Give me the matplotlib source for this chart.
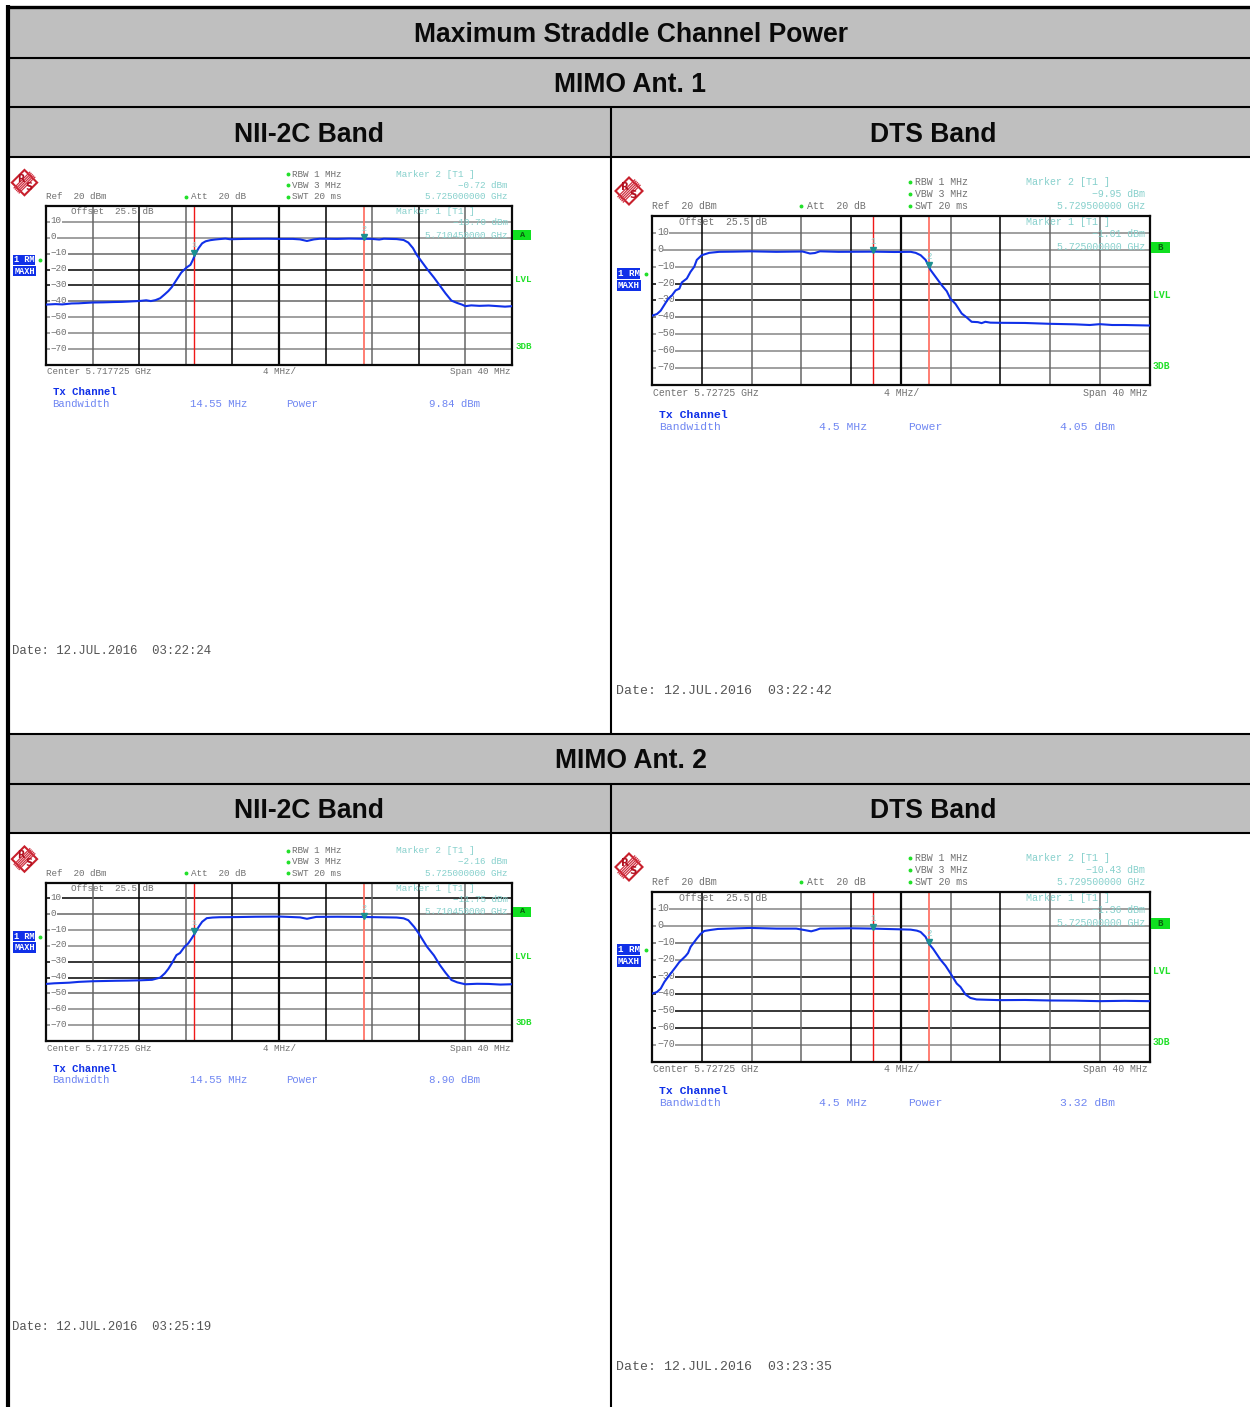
import matplotlib
matplotlib.use('Agg')
import matplotlib.pyplot as plt
from matplotlib.patches import Polygon, Rectangle
from matplotlib.transforms import blended_transform_factory

W, H = 1250, 1407

# Trazas: MHz respecto al centro, dBm
nii1_mhz = [-20, -19.2, -18.6, -17.8, -17.2, -16, -15.1, -14.2, -13.5, -12.9, -11.9, -11.4, -11, -10.6, -10.2, -9.8, -9.5, -9.2, -8.8,
            -8.4, -8.2, -7.9, -7.6, -7.4, -7.2, -6.9, -6.6, -6.3, -5.9, -5.5, -5.1, -4.6, -4.2, -3, -1, 0.1, 1.2, 1.8, 2.4, 3, 3.5,
            5, 6, 8, 8.6, 9, 10.1, 10.7, 11.1, 11.5, 11.8, 12.3, 12.7, 13.3, 13.8, 14.3, 14.8, 15.3, 15.7, 16, 16.5, 17.2, 18, 18.8, 19.4, 20]
nii1_db = [-42, -41.7, -41.9, -41.3, -41.2, -40.7, -40.6, -40.4, -40.3, -40.1, -39.7, -39.3, -39.8, -39.2, -38, -35.5, -33.5, -31, -26.5,
           -22, -20.5, -18.5, -17, -14, -10.5, -6.5, -3.5, -2.2, -1.5, -1.1, -0.8, -0.5, -0.9, -0.7, -0.6, -0.7, -0.7, -1, -2, -1, -0.6,
           -0.7, -0.5, -0.7, -1.1, -0.6, -0.8, -1.4, -3, -6.5, -10.5, -15.5, -19.5, -25, -30, -35, -39.5, -41, -42, -43, -42.5, -42.8, -42.6, -43, -43.3, -43]

dts1_mhz = [-20, -19.6, -19.3, -19, -18.7, -18.4, -18.1, -17.8, -17.6, -17.2, -16.9, -16.6, -16.4, -16, -15.4, -14.6, -13.5, -12.1, -10, -7.9,
            -7.6, -7.3, -6.9, -6.5, -5, -2.2, -0.5, 0.8, 1.2, 1.6, 2, 2.4, 2.8, 3.3, 3.7, 4, 4.4, 4.9, 5.3, 5.7, 6.2, 6.5, 6.8, 7.2, 8, 10, 12, 14, 15.2, 16, 17, 18, 20]
dts1_db = [-39, -38, -36, -32.5, -29, -27, -24, -23, -19.3, -17, -13, -10, -6, -3.2, -1.8, -1.2, -1.1, -0.9, -1.2, -1,
           -1.6, -2.2, -1.9, -0.9, -1.2, -1.1, -1.3, -1.2, -1.8, -3.2, -6, -12, -16, -21, -24.5, -29, -32, -37.7, -40, -42.6, -42.8, -43.4, -42.6, -43.1, -43.2, -43.3, -43.8, -44.1, -44.5, -44, -44.5, -44.5, -44.8]

nii2_mhz = [-20, -19.3, -18, -17.2, -16, -14, -13, -11.9, -10.9, -10.2, -9.8, -9.5, -9.2, -8.8, -8.5, -8.1, -7.8, -7.5, -7.2, -6.9, -6.6, -6.2, -5.7, -5.1,
            -3.5, -2, 0.1, 1.8, 2.4, 3.2, 5, 6.9, 8.5, 10.1, 10.7, 11.1, 11.6, 12, 12.7, 13.3, 13.8, 14.3, 14.8, 15.3, 15.7, 16, 17, 18, 19, 20]
nii2_db = [-44, -43.6, -43.2, -42.7, -42.3, -42, -41.9, -41.7, -41.4, -40, -37.3, -34.5, -31, -25.8, -24.5, -20.5, -18.5, -15.3, -11.8, -8, -4.8, -2.5, -2.1, -1.9,
           -1.8, -1.6, -1.5, -2, -2.9, -1.7, -1.6, -1.7, -1.9, -2.1, -2.6, -3.8, -8, -12.2, -20.5, -26, -32, -37, -41.5, -43, -43.7, -44.2, -43.9, -44, -44.4, -44.2]

dts2_mhz = [-20, -19.6, -19.3, -19, -18.7, -18.1, -17.8, -17.3, -17.1, -16.9, -16.4, -16.1, -15.8, -15.3, -14.7, -12.1, -10, -8.4, -7.7, -7.2, -6.8, -6.5,
            -4, -2.2, 0.8, 1.3, 1.6, 2, 2.25, 2.6, 3.2, 3.6, 4, 4.5, 4.8, 5.2, 5.6, 6.1, 7, 8, 10, 12, 14, 16, 18, 20]
dts2_db = [-40, -39, -37, -33, -30, -24.3, -21.3, -17.8, -16, -12.4, -7.5, -4.8, -3, -2.4, -1.8, -1.2, -1.6, -1.6, -2.5, -3.2, -2.4, -1.6,
           -1.4, -1.6, -2.2, -2.8, -3.6, -6.5, -10.4, -13.5, -20, -23.5, -28, -34, -36, -40.4, -42.5, -43.4, -43.6, -43.8, -43.7, -44, -44.1, -44.4, -44.2, -44.4]

grid_db = [10, 0, -10, -20, -30, -40, -50, -60, -70]
grid_mhz = [-16, -12, -8, -4, 4, 8, 12, 16]

# Textos de cada captura
panel_names = ['nii1', 'dts1', 'nii2', 'dts2']
centers = ['Center 5.717725 GHz', 'Center 5.72725 GHz', 'Center 5.717725 GHz', 'Center 5.72725 GHz']
bandwidths = ['14.55 MHz', '4.5 MHz', '14.55 MHz', '4.5 MHz']
powers = ['9.84 dBm', '4.05 dBm', '8.90 dBm', '3.32 dBm']
dates = ['Date: 12.JUL.2016  03:22:24', 'Date: 12.JUL.2016  03:22:42',
         'Date: 12.JUL.2016  03:25:19', 'Date: 12.JUL.2016  03:23:35']
marker1_mhz = [-7.275, -2.25, -7.275, -2.25]
marker2_mhz = [7.275, 2.25, 7.275, 2.25]
marker1_db = [-10.70, -1.01, -11.75, -1.36]
marker2_db = [-0.72, -9.95, -2.16, -10.43]
marker1_freq = ['5.710450000 GHz', '5.725000000 GHz', '5.710450000 GHz', '5.725000000 GHz']
marker2_freq = ['5.725000000 GHz', '5.729500000 GHz', '5.725000000 GHz', '5.729500000 GHz']
traces = [(nii1_mhz, nii1_db), (dts1_mhz, dts1_db), (nii2_mhz, nii2_db), (dts2_mhz, dts2_db)]

# Posicion en pixeles (izquierda, arriba, ancho, alto) y escala de cada captura
frames = [(46, 206, 466, 159), (652, 216, 497.5, 169), (46, 882.5, 466, 158.5), (652, 892, 497.5, 169.5)]
scales = [0.9365, 1, 0.9365, 1]
box_letter = ['A', 'B', 'A', 'B']

G, D, K = '#858585', '#666666', '#000000'
row_colors = [[G, G, D, K, K, D, G, G, G],
              [G, G, G, K, K, D, G, G, G],
              [K, D, G, G, K, K, D, G, G],
              [G, G, D, G, K, K, K, K, G]]
col_colors = [[D, K, D, K, K, D, K, D],
              [K, D, D, K, D, K, D, D],
              [D, K, D, K, K, D, K, D],
              [K, D, D, K, D, K, D, D]]

BLUE = '#1030e8'
TEAL = '#86d0cc'
TXT = '#707070'
LBLUE = '#6f86f2'
GREEN = '#22e02a'
MONO = 'Liberation Mono'

fig = plt.figure(figsize=(W / 100, H / 100), dpi=100)

# Hoja completa en pixeles: tabla y anotaciones
page = fig.add_axes([0, 0, 1, 1], zorder=10)
page.set_xlim(0, W)
page.set_ylim(H, 0)
page.axis('off')
page.patch.set_alpha(0)

for y0, y1 in [(7, 58), (58, 107), (107, 157), (734, 784), (784, 833)]:
    page.add_patch(Rectangle((8, y0), W - 8, y1 - y0, fc='#bfbfbf', ec='none', zorder=0))
for y in [58, 107, 157, 734, 784, 833]:
    page.plot([8, W], [y, y], color='black', lw=1.5, solid_capstyle='butt', zorder=1)
page.plot([8, W], [6.5, 6.5], color='black', lw=2.4, solid_capstyle='butt', zorder=1)
page.plot([8, 8], [5, H], color='black', lw=3.0, solid_capstyle='butt', zorder=1)
for y0, y1 in [(107, 734), (784, H)]:
    page.plot([611, 611], [y0, y1], color='black', lw=1.5, solid_capstyle='butt', zorder=1)

head = dict(family='Liberation Sans', weight='bold', ha='center', va='center', color='#0a0a0a', fontsize=19.1)
page.text(631, 35.5, 'Maximum Straddle Channel Power', **head)
page.text(630, 85.5, 'MIMO Ant. 1', **head)
page.text(631, 761.5, 'MIMO Ant. 2', **head)
for y in [134.5, 810.5]:
    page.text(309, y, 'NII-2C Band', **head)
    page.text(933, y, 'DTS Band', **head)


def draw_logo(cx, cy, r):
    page.add_patch(Polygon([(cx - r, cy), (cx, cy - r), (cx + r, cy), (cx, cy + r)], closed=True,
                           fc='white', ec='#c8202c', lw=1.5, zorder=2))
    # Banda diagonal rayada entre la R y la S
    for t in [-0.2, -0.1, 0, 0.1, 0.2]:
        page.plot([cx - 0.62 * r + t * r, cx + 0.62 * r + t * r], [cy + 0.62 * r + t * r, cy - 0.62 * r + t * r],
                  color='#d03040', lw=0.9, zorder=3)
    page.text(cx - 0.3 * r, cy - 0.3 * r, 'R', color='#b01020', fontsize=r * 0.55, weight='bold', ha='center', va='center', zorder=4)
    page.text(cx + 0.32 * r, cy + 0.32 * r, 'S', color='#b01020', fontsize=r * 0.55, weight='bold', ha='center', va='center', zorder=4)


for i, name in enumerate(panel_names):
    left, top, w, h = frames[i]
    s = scales[i]
    ax = fig.add_axes([left / W, 1 - (top + h) / H, w / W, h / H], zorder=5)
    ax.set_xlim(-20, 20)
    ax.set_ylim(-80, 20)
    ax.set_xticks([])
    ax.set_yticks([])
    for sp in ax.spines.values():
        sp.set_linewidth(1.6)
        sp.set_color('#0a0a0a')

    for db, c in zip(grid_db, row_colors[i]):
        ax.axhline(db, color=c, lw=1.1, zorder=1)
    for f, c in zip(grid_mhz, col_colors[i]):
        ax.axvline(f, color=c, lw=1.1, zorder=1)
    ax.axvline(0, color='#0a0a0a', lw=1.6, zorder=1)

    # Lineas rojas de los marcadores
    ax.axvline(marker1_mhz[i], color='#f01818', lw=1.0, zorder=2)
    ax.axvline(marker2_mhz[i], color='#ff7468', lw=1.3, zorder=2)

    # Etiquetas del eje dentro del recuadro
    tr = blended_transform_factory(ax.transAxes, ax.transData)
    for db in grid_db:
        ax.text(0.01, db + 0.6, str(db).replace('-', '\u2212'), transform=tr, family=MONO, fontsize=7.1 * s, color=TXT,
                ha='left', va='center', zorder=2.5, bbox=dict(fc='white', ec='none', pad=0.4))

    mhz, db = traces[i]
    ax.plot(mhz, db, color=BLUE, lw=1.5, zorder=3)

    for mf, mdb, label in [(marker1_mhz[i], marker1_db[i], '1'), (marker2_mhz[i], marker2_db[i], '2')]:
        ax.plot([mf], [mdb + 1], marker='v', ms=4.5 * s, color='#1c9090', ls='none', zorder=4)
        ax.text(mf, mdb + 6, label, color=TEAL, family=MONO, fontsize=6.5 * s, ha='center', va='center', zorder=4)

    def X(v):
        return left + v * s

    def Y(v):
        return top + v * s

    def put(x, y, txt, color=TXT, ha='left', size=7.1, weight='normal'):
        page.text(X(x), Y(y), txt, color=color, ha=ha, va='center', family=MONO, fontsize=size * s, weight=weight, zorder=6)

    def star(x, y):
        page.plot([X(x)], [Y(y)], marker='o', ms=1.8, color=GREEN, ls='none', zorder=6)

    draw_logo(X(-23), Y(-25), 13.5 * s)

    put(0, -10, 'Ref  20 dBm')
    star(149, -10)
    put(155, -10, 'Att  20 dB')
    for yy, txt in [(-34, 'RBW 1 MHz'), (-22, 'VBW 3 MHz'), (-10, 'SWT 20 ms')]:
        star(258, yy)
        put(263, yy, txt)

    put(374, -34, 'Marker 2 [T1 ]', TEAL, size=7.2)
    put(493, -22, f'{marker2_db[i]:.2f} dBm'.replace('-', '\u2212'), TEAL, ha='right')
    put(493, -10, marker2_freq[i], TEAL, ha='right')
    put(27, 6, 'Offset  25.5 dB')
    put(374, 6, 'Marker 1 [T1 ]', TEAL, size=7.2)
    put(493, 18, f'{marker1_db[i]:.2f} dBm'.replace('-', '\u2212'), TEAL, ha='right')
    put(493, 31, marker1_freq[i], TEAL, ha='right')

    # Cajas laterales
    page.add_patch(Rectangle((X(499), Y(26)), 19 * s, 10.5 * s, fc='#10e020', ec='none', zorder=5))
    put(508.5, 31, box_letter[i], '#0a5a10', ha='center', size=6.5, weight='bold')
    put(501, 79, 'LVL', GREEN, weight='bold', size=7)
    put(501, 150, '3DB', GREEN, weight='bold', size=7)

    page.add_patch(Rectangle((X(-35), Y(52)), 23 * s, 11 * s, fc=BLUE, ec='none', zorder=5))
    page.add_patch(Rectangle((X(-35), Y(64)), 24 * s, 11 * s, fc=BLUE, ec='none', zorder=5))
    put(-34, 57.5, '1 RM', 'white', size=6.6, weight='bold')
    put(-34, 69.5, 'MAXH', 'white', size=6.6, weight='bold')
    star(-6, 58)

    put(1, 177, centers[i])
    put(232, 177, '4 MHz/')
    put(496, 177, 'Span 40 MHz', ha='right')
    put(7, 199, 'Tx Channel', BLUE, weight='bold', size=8.2)
    put(7, 211, 'Bandwidth', LBLUE, size=8.2)
    put(215, 211, bandwidths[i], LBLUE, ha='right', size=8.2)
    put(256, 211, 'Power', LBLUE, size=8.2)
    put(463.5, 211, powers[i], LBLUE, ha='right', size=8.2)
    put(-36.5, 475, dates[i], '#555555', size=9.5)

fig.savefig('out.png', dpi=100)
